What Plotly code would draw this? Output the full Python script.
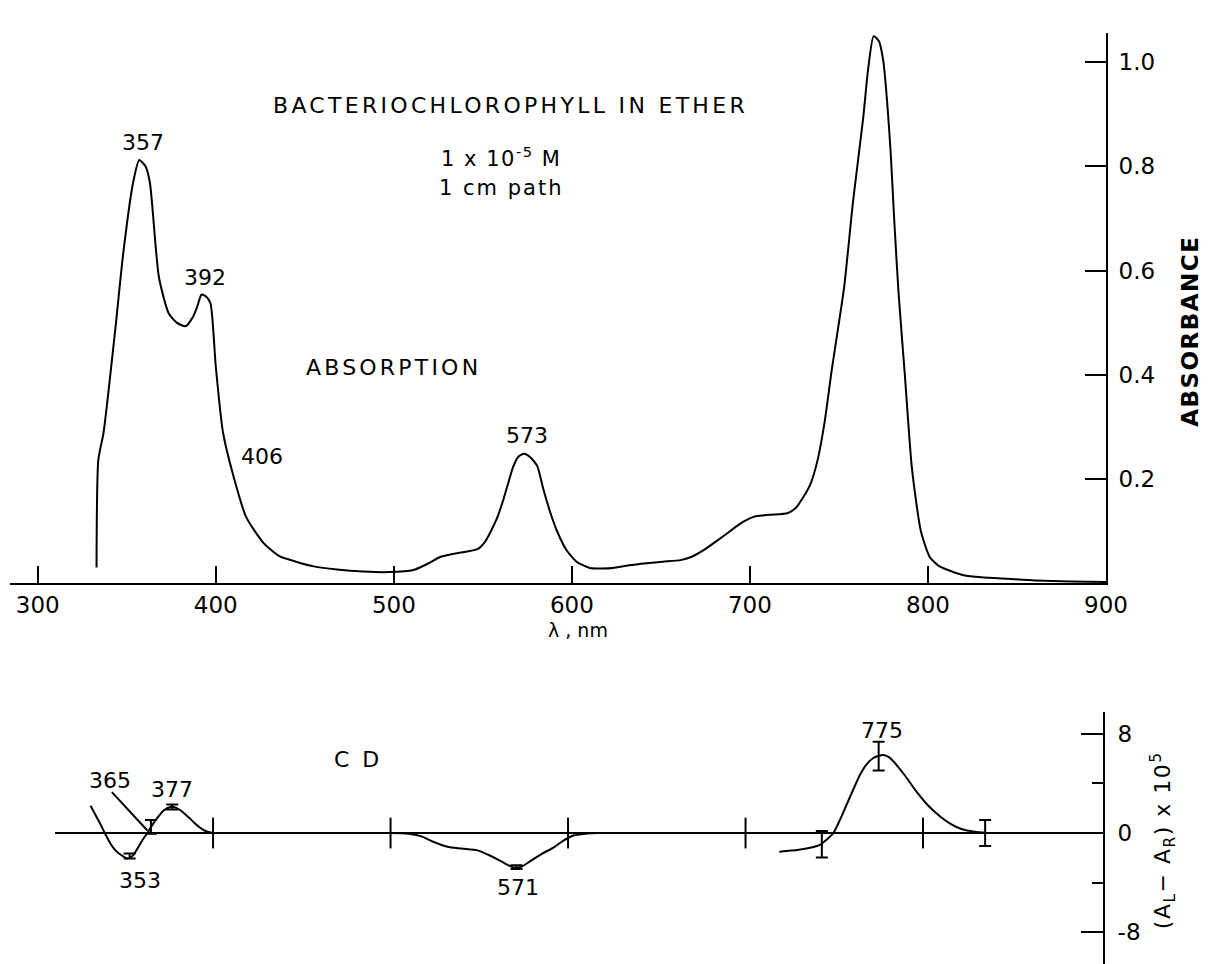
import plotly.graph_objects as go

# ---------------- data ----------------
abs_nm = [333, 334, 337, 343.5, 348, 353.5, 357, 360.5, 363, 368, 373.5, 378, 383, 387, 389.5, 392,
          394.5, 397, 400, 404, 410, 417, 427, 436, 446, 455, 468, 483, 497, 511, 519, 526, 532,
          537, 547, 551, 554, 558, 561.5, 564.5, 567, 570, 573, 576.5, 580.5, 584, 588, 592, 597,
          603, 610, 617, 623, 632, 642, 651, 661, 667, 674, 681, 689, 695, 702, 711, 721, 726, 730,
          734, 738, 742, 746, 750, 753, 758, 763.5, 766.5, 769.5, 772.5, 775, 777, 779, 781, 783.5,
          787, 791, 796, 801, 806, 812, 820, 830, 845, 860, 880, 900]
absorbance = [0.03, 0.236, 0.29, 0.486, 0.633, 0.768, 0.812, 0.80, 0.768, 0.588, 0.518, 0.50, 0.493,
              0.51, 0.53, 0.554, 0.55, 0.537, 0.415, 0.29, 0.204, 0.127, 0.076, 0.051, 0.04, 0.032,
              0.026, 0.022, 0.021, 0.025, 0.037, 0.05, 0.055, 0.058, 0.065, 0.078, 0.096, 0.125, 0.16,
              0.195, 0.223, 0.243, 0.248, 0.242, 0.225, 0.18, 0.134, 0.097, 0.063, 0.04, 0.029, 0.028,
              0.029, 0.034, 0.038, 0.041, 0.044, 0.05, 0.063, 0.08, 0.10, 0.115, 0.127, 0.131, 0.134,
              0.145, 0.165, 0.19, 0.236, 0.31, 0.41, 0.5, 0.57, 0.735, 0.889, 0.99, 1.05, 1.04, 1.0,
              0.927, 0.83, 0.70, 0.556, 0.40, 0.22, 0.10, 0.05, 0.033, 0.024, 0.015, 0.011, 0.008,
              0.005, 0.003, 0.002]

cd_uv_nm = [331, 334, 337, 339, 342, 345, 349, 352, 355, 358, 361, 363, 366, 369, 372, 376, 379,
            382, 386, 390, 394, 397, 400]
cd_uv = [2.2, 1.4, 0.6, 0.0, -0.8, -1.4, -1.85, -2.05, -1.8, -1.1, -0.4, 0.0, 0.7, 1.3, 1.8, 2.1,
         2.05, 1.8, 1.3, 0.75, 0.3, 0.1, 0.0]
cd_vis_nm = [500, 510, 517, 524, 532, 540, 549, 555, 560, 565, 570, 574, 579, 585, 592, 597, 603,
             610, 616]
cd_vis = [0, -0.05, -0.25, -0.7, -1.1, -1.25, -1.4, -1.75, -2.1, -2.5, -2.8, -2.7, -2.25, -1.7,
          -1.15, -0.65, -0.2, -0.05, 0]
cd_nir_nm = [719, 730, 742, 746, 749.5, 753, 757, 761, 764.5, 768, 772, 777.5, 781, 785, 790, 796,
             803, 810, 816, 822, 829, 836]
cd_nir = [-1.5, -1.35, -0.95, -0.5, 0, 1.0, 2.3, 3.6, 4.7, 5.5, 6.05, 6.3, 6.1, 5.5, 4.6, 3.4, 2.2,
          1.3, 0.7, 0.3, 0.1, 0]

cd_err_nm = [353, 365, 377, 571, 743, 775, 835]
cd_err_val = [-1.85, 0.5, 2.1, -2.75, -0.9, 6.2, 0.0]
cd_err = [0.2, 0.55, 0.2, 0.15, 1.07, 1.15, 1.05]

cd_baseline_nm = [311, 901.4]
cd_baseline_val = [0, 0]
cd_cross_nm = [400, 500, 600, 700, 800]
cd_cross_val = [0, 0, 0, 0, 0]

x_ticks = [300, 400, 500, 600, 700, 800, 900]
abs_ticks = [0.2, 0.4, 0.6, 0.8, 1.0]
abs_tick_text = ["0.2", "0.4", "0.6", "0.8", "1.0"]
cd_ticks = [-8, 0, 8]
cd_tick_text = ["-8", "0", "8"]
cd_minor_ticks = [-4, 4]

FONT = "DejaVu Sans"
LW = 2

fig = go.Figure()

fig.add_trace(go.Scatter(x=abs_nm, y=absorbance, mode="lines",
                         line=dict(color="black", width=LW, shape="spline", smoothing=0.6),
                         xaxis="x", yaxis="y", hoverinfo="skip"))

fig.add_trace(go.Scatter(x=cd_baseline_nm, y=cd_baseline_val, mode="lines",
                         line=dict(color="black", width=LW), xaxis="x2", yaxis="y2"))
for xs, ys in [(cd_uv_nm, cd_uv), (cd_vis_nm, cd_vis), (cd_nir_nm, cd_nir)]:
    fig.add_trace(go.Scatter(x=xs, y=ys, mode="lines",
                             line=dict(color="black", width=LW, shape="spline", smoothing=0.7),
                             xaxis="x2", yaxis="y2"))
fig.add_trace(go.Scatter(x=cd_cross_nm, y=cd_cross_val, mode="markers",
                         marker=dict(symbol="line-ns", size=22, line=dict(color="black", width=2)),
                         xaxis="x2", yaxis="y2"))
fig.add_trace(go.Scatter(x=cd_err_nm, y=cd_err_val, mode="markers",
                         marker=dict(size=1, color="black"),
                         error_y=dict(type="data", array=cd_err, visible=True, color="black",
                                      thickness=2, width=6),
                         xaxis="x2", yaxis="y2"))

txt = dict(family=FONT, size=23, color="black")
ann = []
def A(text, x, y, xref="x", yref="y", size=22, spacing=None, **kw):
    if spacing:
        text = '<span style="letter-spacing:%spx">%s</span>' % (spacing, text)
    ann.append(dict(text=text, x=x, y=y, xref=xref, yref=yref, showarrow=False,
                    xanchor="center", yanchor="middle",
                    font=dict(family=FONT, size=size, color="black"), **kw))

A("357", 359, 0.845)
A("392", 394, 0.587)
A("406", 426, 0.242)
A("573", 575, 0.284)
A("769", 771.4, 1.084)
A("BACTERIOCHLOROPHYLL IN ETHER", 565.4, 0.917, size=22, spacing=3.3)
A("1 x 10<sup>-5</sup> M", 560.3, 0.818, size=21, spacing=1.5)
A("1 cm path", 560.3, 0.758, size=21, spacing=2)
A("ABSORPTION", 499.6, 0.413, size=22, spacing=3.2)
A("λ , nm", 603.5, 0.359, yref="paper", size=19)
A("<b>ABSORBANCE</b>", 1.0766, 0.680, xref="paper", yref="paper", size=23, textangle=-90,
  spacing=1.5)

A("353", 358.9, -3.8, "x2", "y2")
A("365", 342, 4.27, "x2", "y2")
A("377", 376.9, 3.47, "x2", "y2")
A("571", 571.8, -4.4, "x2", "y2")
A("775", 776.9, 8.3, "x2", "y2")
A("C D", 481.7, 5.9, "x2", "y2", spacing=3)
A("(A<sub>L</sub>− A<sub>R</sub>) x 10<sup>5</sup>", 1.052, 0.133, xref="paper", yref="paper",
  size=22, textangle=-90, spacing=1.5)

shapes = [dict(type="line", xref="x2", yref="y2", x0=343, y0=3.3, x1=363, y1=0.2,
               line=dict(color="black", width=2))]

axis_common = dict(showgrid=False, zeroline=False, showline=True, linecolor="black",
                   linewidth=LW, tickcolor="black", tickwidth=2, ticks="inside",
                   tickfont=txt)

fig.update_layout(
    width=1209, height=964,
    margin=dict(l=10, r=103, t=33, b=0),
    paper_bgcolor="white", plot_bgcolor="white",
    showlegend=False,
    font=dict(family=FONT, color="black"),
    xaxis=dict(domain=[0, 1], range=[284.4, 900], anchor="y", tickvals=x_ticks,
               ticklen=17, **axis_common),
    yaxis=dict(domain=[0.4092, 1], range=[0, 1.056], anchor="x", side="right",
               tickvals=abs_ticks, ticktext=abs_tick_text, ticklen=21,
               ticklabelstandoff=6, **axis_common),
    xaxis2=dict(domain=[0, 0.99726], range=[285.6, 901.4], anchor="y2", visible=False),
    yaxis2=dict(domain=[0, 0.2707], range=[-10.56, 9.76], anchor="x2", side="right",
                tickvals=cd_ticks, ticktext=cd_tick_text, ticklen=22, ticklabelstandoff=8,
                minor=dict(tickvals=cd_minor_ticks, ticks="inside", ticklen=11,
                           tickcolor="black", tickwidth=2),
                **axis_common),
    annotations=ann,
    shapes=shapes,
)

fig.write_html("out.html", config={"displayModeBar": False},
               post_script="document.body.style.margin='0px';document.body.style.overflow='hidden';")
